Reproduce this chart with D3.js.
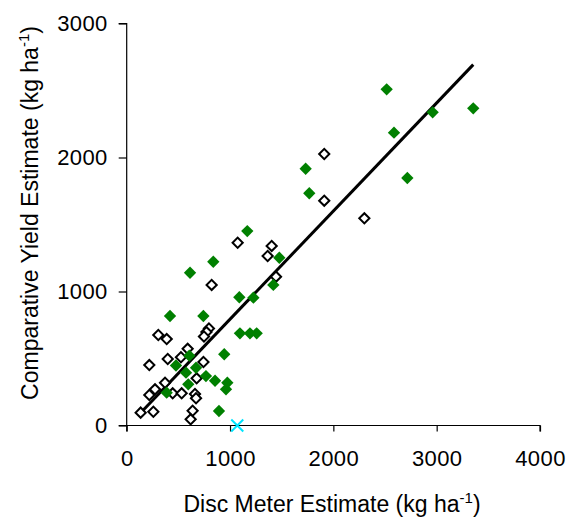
<!DOCTYPE html>
<html><head><meta charset="utf-8">
<script src="https://cdn.jsdelivr.net/npm/d3@7"></script>
<style>body{margin:0;background:#fff;} svg{display:block;} text{font-family:"Liberation Sans",Arial,sans-serif;fill:#000;}</style>
</head><body>
<svg id="c" width="566" height="521"></svg>
<script>
const xTicks = [0, 1000, 2000, 3000, 4000];
const yTicks = [0, 1000, 2000, 3000];
const greenX = [2516,3354,2961,2587,2716,1732,1767,1167,1477,838,1419,613,1090,1226,419,742,1096,1193,1258,944,606,477,671,574,767,855,974,961,596,387,893];
const greenY = [2509,2367,2337,2185,1847,1916,1733,1451,1252,1222,1049,1140,957,954,817,817,688,688,688,532,521,448,431,394,369,334,319,270,307,245,108];
const openX = [2300,1912,1912,1074,1403,1364,822,1445,796,772,748,306,387,590,397,219,525,743,677,371,445,532,661,671,274,219,135,258,638,619];
const openY = [1546,2026,1678,1364,1340,1265,1049,1111,724,697,664,675,645,572,496,451,509,474,352,319,240,240,235,203,270,228,96,103,110,46];
const outlierX = [1070];
const outlierY = [0];
const trendX = [145, 3354];
const trendY = [103, 2693];

const svg = d3.select("#c");
const x = d3.scaleLinear().domain([0, 4000]).range([126.7, 540]);
const y = d3.scaleLinear().domain([0, 3000]).range([425.5, 23.5]);

const xAxis = svg.append("g").attr("transform", "translate(0,425.5)")
  .call(d3.axisBottom(x).tickValues(xTicks).tickSize(6).tickPadding(19).tickFormat(d3.format("d")));
const yAxis = svg.append("g").attr("transform", "translate(126.7,0)")
  .call(d3.axisLeft(y).tickValues(yTicks).tickSize(8).tickPadding(11).tickFormat(d3.format("d")));
[xAxis, yAxis].forEach(g => {
  g.select(".domain").attr("stroke", "#000").attr("stroke-width", 1.2);
  g.selectAll(".tick line").attr("stroke", "#000").attr("stroke-width", 1.2);
  g.selectAll(".tick text").attr("font-size", 22).attr("letter-spacing", 0.4)
    .attr("font-family", "Liberation Sans, Arial, sans-serif");
});
xAxis.selectAll(".domain").attr("d", `M126.7,6V0H540V6`);
yAxis.selectAll(".domain").attr("d", `M-8,23.5H0V425.5H-8`);

svg.append("line")
  .attr("x1", x(trendX[0])).attr("y1", y(trendY[0]))
  .attr("x2", x(trendX[1])).attr("y2", y(trendY[1]))
  .attr("stroke", "#000").attr("stroke-width", 3);

const openData = openX.map((v, i) => [v, openY[i]]);
svg.append("g").selectAll("path").data(openData).enter().append("path")
  .attr("transform", d => `translate(${x(d[0])},${y(d[1])}) rotate(45)`)
  .attr("d", d3.symbol().type(d3.symbolSquare).size(52)())
  .attr("fill", "#fff").attr("stroke", "#000").attr("stroke-width", 2);
const greenData = greenX.map((v, i) => [v, greenY[i]]);
svg.append("g").selectAll("path").data(greenData).enter().append("path")
  .attr("transform", d => `translate(${x(d[0])},${y(d[1])}) rotate(45)`)
  .attr("d", d3.symbol().type(d3.symbolSquare).size(76)())
  .attr("fill", "#008000");
const outData = outlierX.map((v, i) => [v, outlierY[i]]);
svg.append("g").selectAll("path").data(outData).enter().append("path")
  .attr("transform", d => `translate(${x(d[0])},${y(d[1])})`)
  .attr("d", "M-6,-6L6,6M-6,6L6,-6")
  .attr("stroke", "#00e5ff").attr("stroke-width", 2);

const xt = svg.append("text").attr("x", 332).attr("y", 512).attr("text-anchor", "middle").attr("font-size", 23);
xt.append("tspan").text("Disc Meter Estimate (kg ha");
xt.append("tspan").attr("font-size", 15).attr("dy", -9).text("-1");
xt.append("tspan").attr("dy", 9).text(")");

const yt = svg.append("text").attr("transform", "translate(38,213) rotate(-90)").attr("text-anchor", "middle").attr("font-size", 23);
yt.append("tspan").text("Comparative Yield Estimate (kg ha");
yt.append("tspan").attr("font-size", 15).attr("dy", -9).text("-1");
yt.append("tspan").attr("dy", 9).text(")");
</script>
</body></html>
